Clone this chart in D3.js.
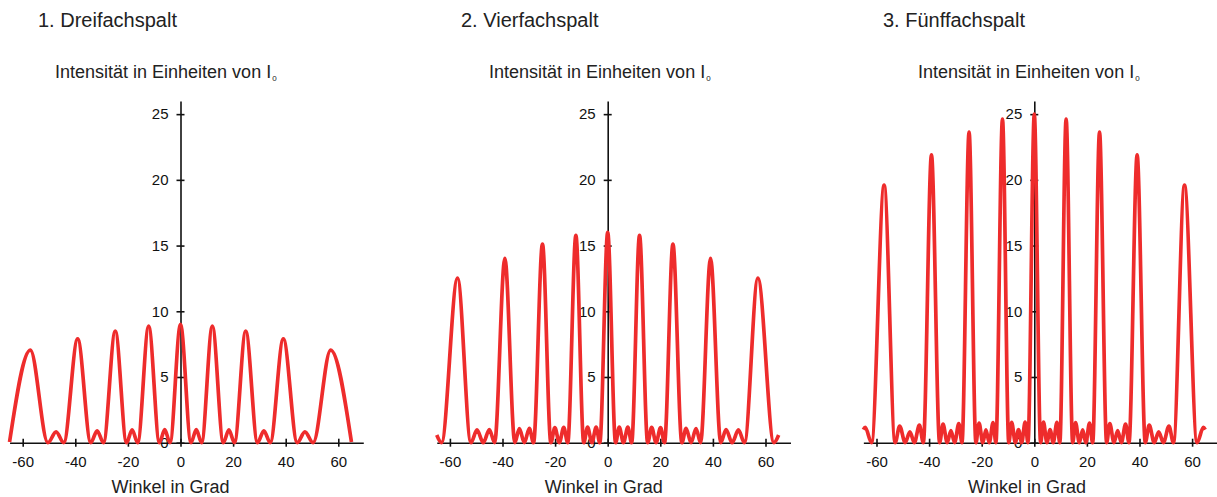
<!DOCTYPE html>
<html>
<head>
<meta charset="utf-8">
<script src="https://cdn.jsdelivr.net/npm/d3@7"></script>
<style>
body { margin: 0; background: #fff; }
svg { font-family: "Liberation Sans", Arial, sans-serif; }
</style>
</head>
<body>
<div id="chart"></div>
<script>
// panel titles and axis ticks
var titles = ["1. Dreifachspalt", "2. Vierfachspalt", "3. Fünffachspalt"]
var xTicks = [-60, -40, -20, 0, 20, 40, 60]
var yTicks = [0, 5, 10, 15, 20, 25]

// maxima and minima: angle in degrees, intensity in units of I0
var angles3 = [-65, -57.1, -50.4, -47.3, -44.4, -39.1, -34.1, -31.7, -29.3, -24.8, -20.5, -18.4, -16.3, -12.1, -8.0, -6.0, -4.0,
    0, 4.0, 6.0, 8.0, 12.1, 16.3, 18.4, 20.5, 24.8, 29.3, 31.7, 34.1, 39.1, 44.4, 47.3, 50.4, 57.1, 65]
var intensity3 = [0.05, 7.05, 0, 0.83, 0, 7.9, 0, 0.91, 0, 8.5, 0, 0.97, 0, 8.87, 0, 1.0, 0,
    9, 0, 1.0, 0, 8.87, 0, 0.97, 0, 8.5, 0, 0.91, 0, 7.9, 0, 0.83, 0, 7.05, 0.05]

var angles4 = [-65, -63.2, -57.1, -52.0, -49.7, -47.3, -45.0, -43.0, -39.1, -35.3, -33.6, -31.7, -29.8, -28.2, -24.8, -21.6, -20.1, -18.4, -16.7, -15.2, -12.1, -9.1, -7.65, -6.0, -4.4, -3.0,
    0, 3.0, 4.4, 6.0, 7.65, 9.1, 12.1, 15.2, 16.7, 18.4, 20.1, 21.6, 24.8, 28.2, 29.8, 31.7, 33.6, 35.3, 39.1, 43.0, 45.0, 47.3, 49.7, 52.0, 57.1, 63.2, 65]
var intensity4 = [0.58, 0, 12.53, 0, 0.97, 0, 1.0, 0, 14.03, 0, 1.07, 0, 1.09, 0, 15.12, 0, 1.14, 0, 1.16, 0, 15.78, 0, 1.18, 0, 1.18, 0,
    16, 0, 1.18, 0, 1.18, 0, 15.78, 0, 1.16, 0, 1.14, 0, 15.12, 0, 1.09, 0, 1.07, 0, 14.03, 0, 1.0, 0, 0.97, 0, 12.53, 0, 0.58]

var angles5 = [-65, -64.3, -61.9, -57.1, -52.9, -51.2, -49.1, -47.3, -45.6, -43.7, -42.2, -39.1, -36.0, -34.7, -33.1, -31.7, -30.3, -28.7, -27.5, -24.8, -22.2, -21.0, -19.6, -18.4, -17.1, -15.7, -14.6, -12.1, -9.7, -8.6, -7.2, -6.0, -4.8, -3.5, -2.4,
    0, 2.4, 3.5, 4.8, 6.0, 7.2, 8.6, 9.7, 12.1, 14.6, 15.7, 17.1, 18.4, 19.6, 21.0, 22.2, 24.8, 27.5, 28.7, 30.3, 31.7, 33.1, 34.7, 36.0, 39.1, 42.2, 43.7, 45.6, 47.3, 49.1, 51.2, 52.9, 57.1, 61.9, 64.3, 65]
var intensity5 = [1.0, 1.17, 0, 19.6, 0, 1.27, 0, 0.83, 0, 1.33, 0, 21.9, 0, 1.41, 0, 0.92, 0, 1.45, 0, 23.63, 0, 1.5, 0, 0.97, 0, 1.53, 0, 24.63, 0, 1.55, 0, 1.0, 0, 1.56, 0,
    25, 0, 1.56, 0, 1.0, 0, 1.55, 0, 24.63, 0, 1.53, 0, 0.97, 0, 1.5, 0, 23.63, 0, 1.45, 0, 0.92, 0, 1.41, 0, 21.9, 0, 1.33, 0, 0.83, 0, 1.27, 0, 19.6, 0, 1.17, 1.0]

var width = 1217
var height = 497
var pxPerDeg = 2.63
var textColor = "#222"

var panels = [
    {title: titles[0], angles: angles3, values: intensity3, cx: 180.5, titleX: 38, yTitleX: 55, xTitleX: 170.5},
    {title: titles[1], angles: angles4, values: intensity4, cx: 607.7, titleX: 461, yTitleX: 489, xTitleX: 603.7},
    {title: titles[2], angles: angles5, values: intensity5, cx: 1034.3, titleX: 883, yTitleX: 918, xTitleX: 1027}
]

var svg = d3.select("#chart")
    .append("svg")
    .attr("width", width)
    .attr("height", height)

var y = d3.scaleLinear().domain([0, 26]).range([442.7, 101])

panels.forEach(function(p){
    var g = svg.append("g")

    var x = d3.scaleLinear()
        .domain([-65, 69.5])
        .range([p.cx - 65 * pxPerDeg, p.cx + 69.5 * pxPerDeg])

    // titles
    g.append("text")
        .attr("x", p.titleX)
        .attr("y", 27)
        .attr("font-size", 20)
        .attr("fill", textColor)
        .text(p.title)

    var yt = g.append("text")
        .attr("x", p.yTitleX)
        .attr("y", 78)
        .attr("font-size", 18)
        .attr("fill", textColor)
    yt.append("tspan").text("Intensität in Einheiten von I")
    yt.append("tspan").attr("font-size", 8).attr("dy", 3).attr("dx", 1).text("0")

    g.append("text")
        .attr("x", p.xTitleX)
        .attr("y", 493)
        .attr("text-anchor", "middle")
        .attr("font-size", 18)
        .attr("fill", textColor)
        .text("Winkel in Grad")

    // axes
    var xAxis = g.append("g")
        .attr("transform", "translate(0," + y(0) + ")")
        .call(d3.axisBottom(x).tickValues(xTicks).tickFormat(String)
            .tickSizeInner(4).tickSizeOuter(0).tickPadding(10))
    xAxis.selectAll(".tick line").attr("y1", -4)

    var yAxis = g.append("g")
        .attr("transform", "translate(" + x(0) + ",0)")
        .call(d3.axisLeft(y).tickValues(yTicks).tickFormat(String)
            .tickSizeInner(4).tickSizeOuter(0).tickPadding(8))
    yAxis.selectAll(".tick line").attr("x1", 4)

    g.selectAll(".domain, .tick line")
        .attr("stroke", "#111")
        .attr("stroke-width", 1.6)
    g.selectAll(".tick text")
        .attr("fill", "#111")
    xAxis.attr("font-size", 15).attr("font-family", null)
    yAxis.attr("font-size", 15).attr("font-family", null)

    // intensity curve
    var pts = p.angles.map(function(a, i){ return [a, p.values[i]] })
    var line = d3.line()
        .x(d => x(d[0]))
        .y(d => y(d[1]))
        .curve(d3.curveMonotoneX)

    g.append("path")
        .datum(pts)
        .attr("fill", "none")
        .attr("stroke", "#ee2c2c")
        .attr("stroke-width", 3.7)
        .attr("stroke-linejoin", "round")
        .attr("d", line)
})
</script>
</body>
</html>
